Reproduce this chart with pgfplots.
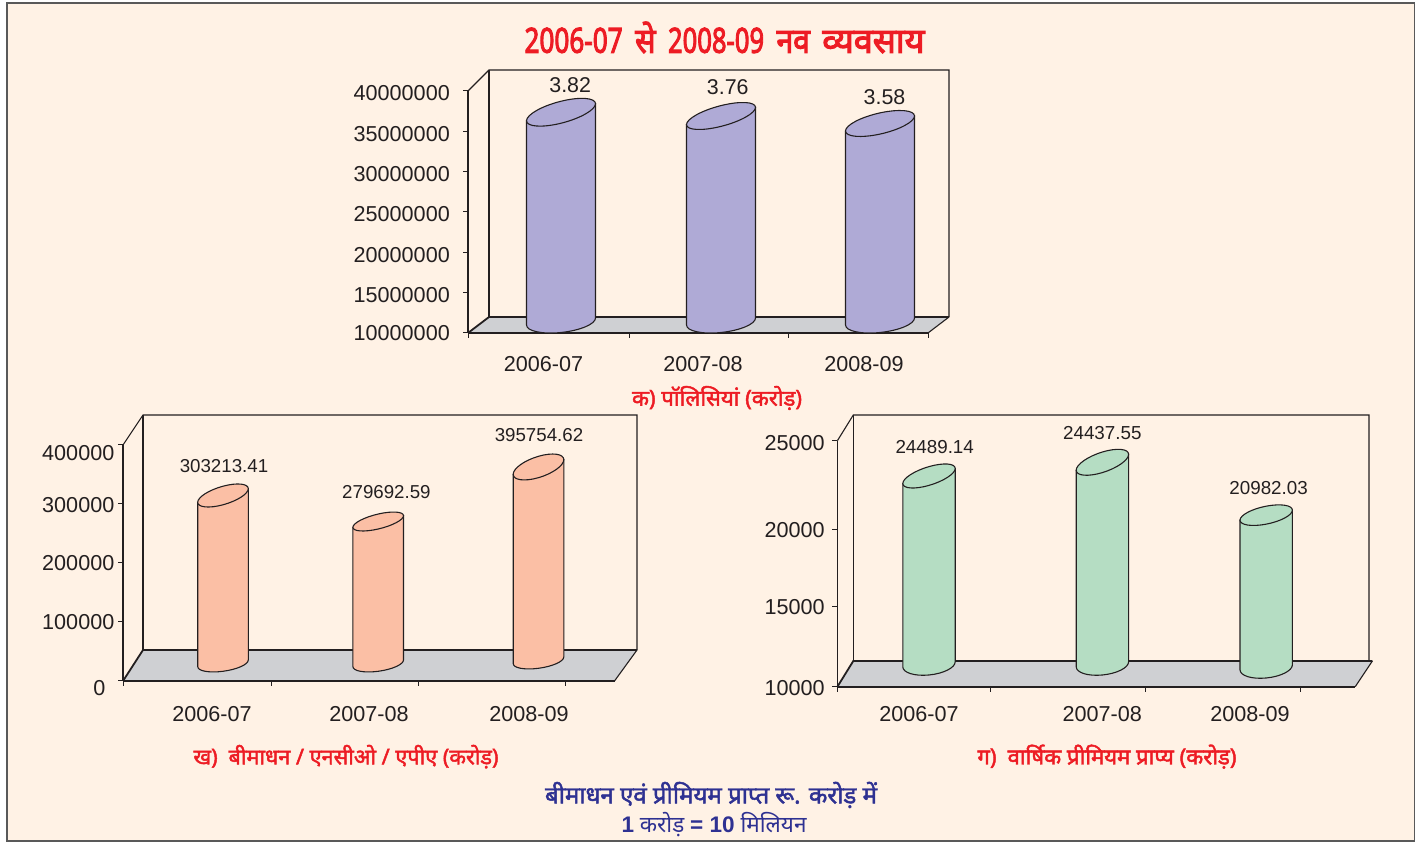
\documentclass[border=0pt]{standalone}
\usepackage{graphicx}
\usepackage{fontspec}
\setmainfont{Liberation Sans}
\newfontfamily\hi[Script=Devanagari,AutoFakeBold=2]{Noto Sans}
\newfontfamily\hit[Script=Devanagari,AutoFakeBold=3.2]{Noto Sans}
\usepackage{pgfplots}
\pgfplotsset{compat=1.18}
\definecolor{panel}{HTML}{FFF2E5}
\definecolor{ink}{HTML}{231F20}
\definecolor{floorc}{HTML}{CFD0D3}
\definecolor{hred}{HTML}{ED1C24}
\definecolor{hblue}{HTML}{2E3192}
\definecolor{cpurple}{HTML}{AFAAD6}
\definecolor{csalmon}{HTML}{FBBFA5}
\definecolor{cgreen}{HTML}{B5DDC3}
\newcommand{\yl}[2]{\raisebox{#1pt}[0pt][0pt]{#2}}
% cylinder mark: its origin is the centre of the top ellipse
\pgfdeclareplotmark{cyl}{%
  \pgfsetlinewidth{1.1pt}\pgfsetstrokecolor{ink}\pgfsetfillcolor{\cylFill}%
  \pgfpathmoveto{\pgfpoint{-\cylW pt}{-\cylT pt}}%
  \pgfpathlineto{\pgfpoint{-\cylW pt}{-\cylH pt-\cylTB pt}}%
  \pgfpathcurveto{\pgfpoint{-\cylW pt}{-\cylH pt-\cylTB pt-0.5523*\cylBB pt}}%
                 {\pgfpoint{-0.5523*\cylW pt}{-\cylH pt-\cylBB pt-0.5523*\cylTB pt}}%
                 {\pgfpoint{0pt}{-\cylH pt-\cylBB pt}}%
  \pgfpathcurveto{\pgfpoint{0.5523*\cylW pt}{-\cylH pt-\cylBB pt+0.5523*\cylTB pt}}%
                 {\pgfpoint{\cylW pt}{-\cylH pt+\cylTB pt-0.5523*\cylBB pt}}%
                 {\pgfpoint{\cylW pt}{-\cylH pt+\cylTB pt}}%
  \pgfpathlineto{\pgfpoint{\cylW pt}{\cylT pt}}%
  \pgfpathclose
  \pgfusepath{fill,stroke}%
  \pgfpathellipse{\pgfpointorigin}{\pgfpoint{\cylW pt}{\cylT pt}}{\pgfpoint{0pt}{\cylB pt}}%
  \pgfusepath{fill,stroke}%
}
\pgfplotsset{
  cylinders/.style={
    only marks, mark=cyl, scatter, scatter src=y,
    visualization depends on={value \thisrow{y} \as \vY},
    visualization depends on={value \thisrow{base} \as \vBase},
    visualization depends on={value \thisrow{tilt} \as \vTilt},
    visualization depends on={value \thisrow{minor} \as \vMinor},
    scatter/@pre marker code/.code={%
      \begingroup\pgfkeys{/pgf/fpu=true,/pgf/fpu/output format=fixed}%
      \pgfmathparse{(\vY-\vBase)*\cylS}\xdef\cylH{\pgfmathresult}\endgroup
      \xdef\cylT{\vTilt}\xdef\cylB{\vMinor}},
    scatter/@post marker code/.code={},
  },
  frontaxis/.style={
    scale only axis, clip=false, anchor=south west,
    axis x line*=bottom, axis y line*=left, axis line style={ink,line width=1.7pt},
    tick align=outside, major tick length=5pt,
    tick style={ink,line width=1pt},
    scaled y ticks=false,
    tick label style={font=\fontsize{21.6}{24}\selectfont,text=ink,inner sep=0pt},
    xticklabels={},
    yticklabel style={anchor=east},
    extra x tick style={major tick length=0pt,
       xticklabel style={anchor=base,inner sep=0pt}},
  },
  overlay/.style={scale only axis, clip=false, anchor=south west, hide axis},
}
% #1..#4 front left,right,bottom,top  #5..#8 back left,right,bottom,top  #9 floor corner
\newcommand{\chartframe}[9]{%
  \fill[floorc] (#1,{842-#3})--(#2,{842-#3})--(#9,{842-#7})--(#5,{842-#7})--cycle;
  \draw[ink,line width=1.1pt] (#1,{842-#4})--(#5,{842-#8})--(#6,{842-#8})--(#6,{842-#7});
  \draw[ink,line width=1.1pt] (#5,{842-#8})--(#5,{842-#7});
  \draw[ink,line width=1.1pt] (#2,{842-#3})--(#9,{842-#7});
  \draw[ink,line width=1.8pt] (#1,{842-#3})--(#5,{842-#7})--(#9,{842-#7});
}
\newcommand{\lbl}[4]{\node[text=ink,inner sep=0pt,anchor=center] at (#1,{842-#2}) {\fontsize{#3}{#3}\selectfont #4};}
\newcommand{\capt}[5]{\node[text=#4,inner sep=0pt,anchor=center] at (#1,{842-#2}) {\resizebox{#3pt}{!}{\fontsize{20}{24}\selectfont\hi #5}};}
\begin{document}
\begin{tikzpicture}[x=1pt,y=1pt]
\path[use as bounding box] (0,0) rectangle (1422,842);
\fill[panel,draw=black!65,line width=1.4pt] (7,{842-3}) rectangle (1414.5,{842-841});

\node[text=hred,inner sep=0pt,anchor=center] at (724.5,{842-37.5}) {\resizebox{400pt}{31pt}{\fontsize{20}{24}\selectfont\hit\bfseries \scalebox{.95}[1]{2006-07}\hspace{.45em}\scalebox{1.1}[1]{से}\hspace{.45em}\scalebox{.93}[1]{2008-09}\hspace{.45em}\scalebox{1.09}[1]{नव}\hspace{.45em}\scalebox{1.24}[1]{व्यवसाय}}};
\capt{717}{398}{170}{hred}{\bfseries क) पॉलिसियां (करोड़)}
\capt{346}{756.7}{305}{hred}{\bfseries ख)\enspace बीमाधन / एनसीओ / एपीए (करोड़)}
\capt{1107}{756.7}{259}{hred}{\bfseries ग)\enspace वार्षिक प्रीमियम प्राप्य (करोड़)}
\capt{711}{795}{332}{hblue}{\bfseries बीमाधन एवं प्रीमियम प्राप्त रू. करोड़ में}
\capt{714}{825}{185}{hblue}{{\rmfamily\bfseries 1} करोड़ {\rmfamily\bfseries = 10} मिलियन}

% ---- chart 1
\chartframe{468}{928}{333}{91}{489}{949}{317}{70}{949}
\begin{axis}[frontaxis, at={(468pt,509pt)}, width=460pt, height=242pt,
  xmin=0, xmax=460, ymin=10000000, ymax=40000000,
  xtick={0,161,320,460},
  extra x ticks={75.5,235,396}, extra x tick labels={2006-07,2007-08,2008-09},
  extra x tick style={xticklabel style={yshift=-39pt}},
  ytick={10000000,15000000,20000000,25000000,30000000,35000000,40000000},
  yticklabels={\yl{-8}{10000000},\yl{-10}{15000000},\yl{-10}{20000000},\yl{-10}{25000000},\yl{-10}{30000000},\yl{-10}{35000000},\yl{-10}{40000000}},
  yticklabel style={xshift=-13pt},
]
\end{axis}
\def\cylFill{cpurple}\def\cylW{34.5}\def\cylS{0.0000075}\def\cylTB{3.5}\def\cylBB{11}
\begin{axis}[overlay, at={(468pt,520.5pt)}, width=481pt, height=251.5pt,
  xmin=0, xmax=481, ymin=10000000, ymax=43533333]
\addplot[cylinders] table[x=x,y=y,row sep=\\] {
x y base tilt minor\\
93 37900000 10000000 8.5 11\\
253 37400000 10000000 8.6 10.4\\
412 36400000 10000000 7.5 10.6\\
};
\end{axis}
\lbl{570.2}{85}{21.4}{3.82}
\lbl{727.8}{86.7}{21.4}{3.76}
\lbl{884.5}{96.7}{21.4}{3.58}

% ---- chart 2
\chartframe{123}{614.5}{681}{445}{143}{637}{650}{415}{637}
\begin{axis}[frontaxis, at={(123pt,161pt)}, width=491.5pt, height=236pt,
  xmin=0, xmax=491.5, ymin=0, ymax=400000,
  xtick={0,148.5,295.4,442},
  extra x ticks={89,246,406}, extra x tick labels={2006-07,2007-08,2008-09},
  extra x tick style={xticklabel style={yshift=-41pt}},
  ytick={0,100000,200000,300000,400000},
  yticklabels={\yl{-15}{0\hspace*{9pt}},\yl{-7.8}{100000},\yl{-7.8}{200000},\yl{-8.8}{300000},\yl{-15.8}{400000}},
  yticklabel style={xshift=-3.5pt},
]
\end{axis}
\def\cylFill{csalmon}\def\cylW{25.3}\def\cylS{0.00053}\def\cylTB{3.3}\def\cylBB{8}
\begin{axis}[overlay, at={(123pt,178.7pt)}, width=514pt, height=248.3pt,
  xmin=0, xmax=514, ymin=0, ymax=468490]
\addplot[cylinders] table[x=x,y=y,row sep=\\] {
x y base tilt minor\\
100 316600 0 6.8 9.3\\
255.2 267500 0 5.8 7.5\\
415.5 370400 5660 7.3 10.7\\
};
\end{axis}
\lbl{224}{466}{18.7}{303213.41}
\lbl{386.4}{491.7}{18.7}{279692.59}
\lbl{539}{435}{18.7}{395754.62}

% ---- chart 3
\chartframe{837.4}{1355.2}{686.7}{440.7}{853.3}{1369}{661}{415}{1372.4}
\begin{axis}[frontaxis, at={(837.4pt,155.3pt)}, width=517.8pt, height=246pt,
  xmin=0, xmax=517.8, ymin=10000, ymax=25000,
  xtick={0,153.1,307.8,462.6},
  extra x ticks={81.6,264.9,412.6}, extra x tick labels={2006-07,2007-08,2008-09},
  extra x tick style={xticklabel style={yshift=-34.5pt}},
  ytick={10000,14878,19598,25000},
  yticklabels={\yl{-9.1}{10000},\yl{-7.8}{15000},\yl{-7.8}{20000},\yl{-10.1}{25000}},
  yticklabel style={xshift=-7.5pt},
]
\end{axis}
\def\cylFill{cgreen}\def\cylW{26.2}\def\cylS{0.01358}\def\cylTB{2.5}\def\cylBB{10.7}
\begin{axis}[overlay, at={(837.4pt,177.7pt)}, width=535pt, height=249.3pt,
  xmin=0, xmax=535, ymin=10000, ymax=28358]
\addplot[cylinders] table[x=x,y=y,row sep=\\] {
x y base tilt minor\\
91.6 23866 10000 7.5 9.4\\
265 24875 10000 7.9 10.3\\
428.8 20982 9779 5 9\\
};
\end{axis}
\lbl{934.7}{446.7}{18.8}{24489.14}
\lbl{1102.3}{433.3}{18.8}{24437.55}
\lbl{1268.6}{487.7}{18.8}{20982.03}
\end{tikzpicture}
\end{document}
